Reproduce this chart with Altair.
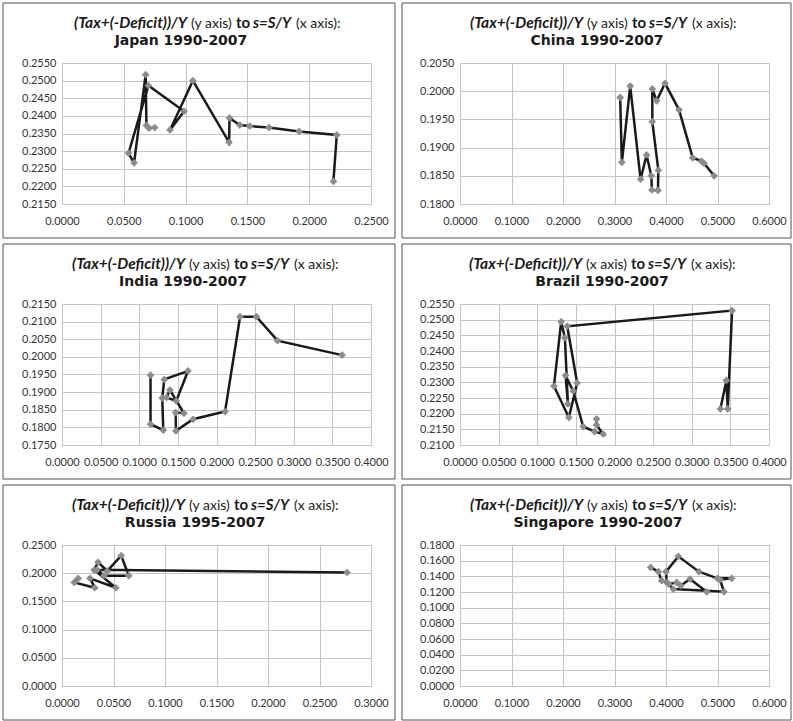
import altair as alt
import pandas as pd

# ---------------- data ----------------
japan_x = [0.2196, 0.2223, 0.1919, 0.1675, 0.1519, 0.1438, 0.1355, 0.1352, 0.1059,
           0.0874, 0.0987, 0.0699, 0.0538, 0.0583, 0.0677, 0.0683, 0.0704, 0.0750]
japan_y = [0.2214, 0.2346, 0.2356, 0.2367, 0.2371, 0.2374, 0.2394, 0.2325, 0.2500,
           0.2360, 0.2413, 0.2486, 0.2294, 0.2267, 0.2517, 0.2373, 0.2365, 0.2367]

china_x = [0.3110, 0.3143, 0.3305, 0.3506, 0.3623, 0.3714, 0.3727, 0.3844, 0.3851,
           0.3734, 0.3734, 0.3818, 0.3981, 0.4253, 0.4519, 0.4690, 0.4740, 0.4935]
china_y = [0.1989, 0.1874, 0.2009, 0.1844, 0.1887, 0.1850, 0.1825, 0.1824, 0.1860,
           0.1946, 0.2004, 0.1983, 0.2014, 0.1967, 0.1882, 0.1876, 0.1872, 0.1850]

india_x = [0.1146, 0.1146, 0.1311, 0.1298, 0.1324, 0.1631, 0.1479, 0.1354, 0.1397,
           0.1579, 0.1471, 0.1475, 0.1696, 0.2111, 0.2305, 0.2517, 0.2790, 0.3625]
india_y = [0.1948, 0.1809, 0.1792, 0.1883, 0.1936, 0.1960, 0.1875, 0.1885, 0.1906,
           0.1840, 0.1842, 0.1790, 0.1823, 0.1845, 0.2114, 0.2114, 0.2046, 0.2005]

brazil_x = [0.1767, 0.1767, 0.1853, 0.1741, 0.1595, 0.1466, 0.1366, 0.1397, 0.1358,
            0.1310, 0.1216, 0.1409, 0.1517, 0.1388, 0.3522, 0.3466, 0.3448, 0.3371]
brazil_y = [0.2183, 0.2164, 0.2135, 0.2143, 0.2159, 0.2272, 0.2322, 0.2231, 0.2442,
            0.2493, 0.2288, 0.2188, 0.2298, 0.2479, 0.2529, 0.2215, 0.2306, 0.2215]

russia_x = [0.0157, 0.0119, 0.0318, 0.0273, 0.0523, 0.0312, 0.0350, 0.0440, 0.0575,
            0.0649, 0.0408, 0.0340, 0.2768]
russia_y = [0.1908, 0.1837, 0.1742, 0.1908, 0.1742, 0.2056, 0.2192, 0.2040, 0.2310,
            0.1955, 0.1955, 0.2060, 0.2014]

singapore_x = [0.3702, 0.3851, 0.3916, 0.4013, 0.4000, 0.4239, 0.4641, 0.4997, 0.5275,
               0.5049, 0.5126, 0.4142, 0.4052, 0.4207, 0.4285, 0.4466, 0.4790]
singapore_y = [0.1514, 0.1459, 0.1344, 0.1322, 0.1459, 0.1655, 0.1459, 0.1374, 0.1374,
               0.1357, 0.1203, 0.1237, 0.1301, 0.1322, 0.1280, 0.1365, 0.1203]

japan_xticks = [0.0, 0.05, 0.10, 0.15, 0.20, 0.25]
japan_yticks = [0.215, 0.220, 0.225, 0.230, 0.235, 0.240, 0.245, 0.250, 0.255]
china_xticks = [0.0, 0.1, 0.2, 0.3, 0.4, 0.5, 0.6]
china_yticks = [0.180, 0.185, 0.190, 0.195, 0.200, 0.205]
india_xticks = [0.0, 0.05, 0.10, 0.15, 0.20, 0.25, 0.30, 0.35, 0.40]
india_yticks = [0.175, 0.180, 0.185, 0.190, 0.195, 0.200, 0.205, 0.210, 0.215]
brazil_xticks = [0.0, 0.05, 0.10, 0.15, 0.20, 0.25, 0.30, 0.35, 0.40]
brazil_yticks = [0.210, 0.215, 0.220, 0.225, 0.230, 0.235, 0.240, 0.245, 0.250, 0.255]
russia_xticks = [0.0, 0.05, 0.10, 0.15, 0.20, 0.25, 0.30]
russia_yticks = [0.0, 0.05, 0.10, 0.15, 0.20, 0.25]
singapore_xticks = [0.0, 0.1, 0.2, 0.3, 0.4, 0.5, 0.6]
singapore_yticks = [0.0, 0.02, 0.04, 0.06, 0.08, 0.10, 0.12, 0.14, 0.16, 0.18]

W, H = 309, 141
FONT = "Lato"
DARK = "#1a1a1a"


def panel(xs, ys, xticks, yticks, line2, word1, frame_x, line2_cx, start=10):
    df = pd.DataFrame({"x": xs, "y": ys, "i": list(range(len(xs)))})
    xsc = alt.Scale(domain=[xticks[0], xticks[-1]], nice=False, zero=False)
    ysc = alt.Scale(domain=[yticks[0], yticks[-1]], nice=False, zero=False)
    xax = alt.Axis(values=xticks, format=".4f", title=None, labelPadding=11,
                   labelOverlap=False, labelFlush=False)
    yax = alt.Axis(values=yticks, format=".4f", title=None, labelPadding=6,
                   labelOverlap=False, labelFlush=False)
    base = alt.Chart(df).encode(
        x=alt.X("x:Q", scale=xsc, axis=xax),
        y=alt.Y("y:Q", scale=ysc, axis=yax),
    )
    line = base.mark_line(color=DARK, strokeWidth=2.5).encode(order="i:Q")
    pts = base.mark_point(shape="diamond", filled=True, size=60, color="#8c8c8c", opacity=1)

    one = alt.Data(values=[{"a": 1}])
    frame = alt.Chart(one).mark_rect(filled=False, color="#505050", strokeWidth=1).encode(
        x=alt.value(frame_x[0]), x2=alt.value(frame_x[1]),
        y=alt.value(-60), y2=alt.value(175))

    y1 = -35

    def seg(txt, dx, weight, style, size=15):
        return alt.Chart(one).mark_text(
            text=txt, align="left", baseline="alphabetic", font=FONT, fontSize=size,
            fontWeight=weight, fontStyle=style, color=DARK
        ).encode(x=alt.value(start + dx), y=alt.value(y1))

    t1 = seg("(Tax+(-Deficit))/Y", 0, "bold", "italic", 15.5)
    t2 = seg(word1, 117, "normal", "normal", 14)
    t3 = seg("to", 162, "bold", "normal")
    t4 = seg("s=S/Y", 179, "bold", "italic")
    t5 = seg("(x axis):", 222, "normal", "normal", 14)
    t6 = alt.Chart(one).mark_text(
        text=line2, align="center", baseline="alphabetic", font="DejaVu Sans", fontSize=14,
        fontWeight="bold", color=DARK
    ).encode(x=alt.value(line2_cx), y=alt.value(-18))

    return alt.layer(frame, line, pts, t1, t2, t3, t4, t5, t6).properties(width=W, height=H)


LF = (-59, 333)
RF = (-58, 331)

p1 = panel(japan_x, japan_y, japan_xticks, japan_yticks, "Japan 1990-2007", "(y axis)", LF, 119, start=12)
p2 = panel(china_x, china_y, china_xticks, china_yticks, "China 1990-2007", "(y axis)", RF, 137)
p3 = panel(india_x, india_y, india_xticks, india_yticks, "India 1990-2007", "(y axis)", LF, 121)
p4 = panel(brazil_x, brazil_y, brazil_xticks, brazil_yticks, "Brazil 1990-2007", "(x axis)", RF, 142, start=9)
p5 = panel(russia_x, russia_y, russia_xticks, russia_yticks, "Russia 1995-2007", "(y axis)", LF, 133)
p6 = panel(singapore_x, singapore_y, singapore_xticks, singapore_yticks, "Singapore 1990-2007", "(y axis)", RF, 138)

chart = alt.concat(
    p1, p2, p3, p4, p5, p6, columns=2,
    spacing={"row": 100, "column": 89}, bounds="flush",
).properties(
    padding={"left": 2, "top": 2, "right": 0, "bottom": 0},
    background="white",
).configure_view(
    stroke="#b4b4b4", strokeWidth=1
).configure_axis(
    grid=True, gridColor="#c4c4c4", gridWidth=1, domain=False, ticks=False,
    labelFont=FONT, labelFontSize=11, labelColor="#333333"
)

chart.save("out.html", embed_options={"renderer": "svg", "actions": False})
